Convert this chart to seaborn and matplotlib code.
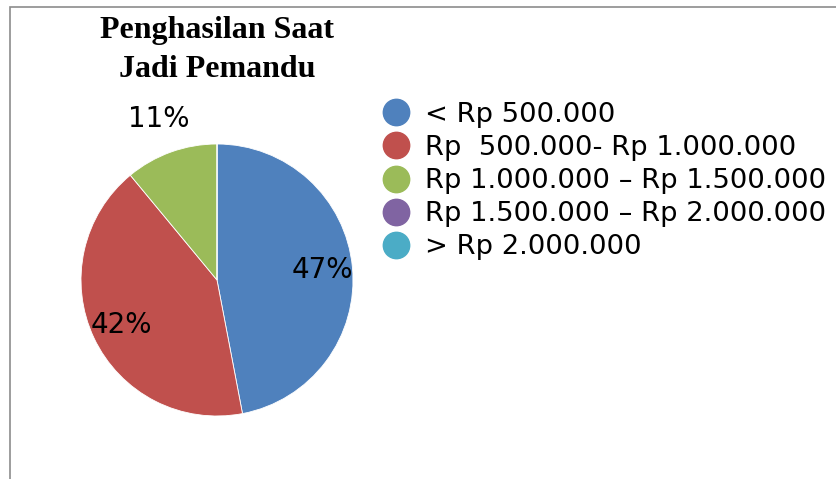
import matplotlib
matplotlib.use('Agg')
import matplotlib.pyplot as plt
from matplotlib.lines import Line2D
from matplotlib.patches import Rectangle
import seaborn as sns

W, H = 837, 479

categories = ['< Rp 500.000',
              'Rp  500.000- Rp 1.000.000',
              'Rp 1.000.000 \u2013 Rp 1.500.000',
              'Rp 1.500.000 \u2013 Rp 2.000.000',
              '> Rp 2.000.000']
shares = [47, 42, 11, 0, 0]
colors = ['#4F81BD', '#C0504D', '#9BBB59', '#8064A2', '#4BACC6']
title = 'Penghasilan Saat\nJadi Pemandu'

sns.set_theme(style='white')
plt.rcParams['font.family'] = ['DejaVu Sans']
plt.rcParams['text.color'] = 'black'
palette = sns.color_palette(colors)

fig = plt.figure(figsize=(W / 100, H / 100), dpi=100)

# outer chart border (grey, left and top visible)
fig.patches.append(Rectangle((10 / W, -0.1), 1.2, 1 - 7 / H + 0.1,
                             transform=fig.transFigure, fill=False,
                             edgecolor='#8c8c8c', linewidth=1.2))

# pie axes placed so that the pie sits at the same spot as the reference
cx, cy, r = 217, 280, 136
ax = fig.add_axes([(cx - r) / W, (H - cy - r) / H, 2 * r / W, 2 * r / H])

wedges, texts, autotexts = ax.pie(
    shares, colors=palette, startangle=90, counterclock=False,
    autopct=lambda p: f'{p:.0f}%' if p > 0 else '',
    pctdistance=0.78, radius=1,
    wedgeprops=dict(linewidth=0.6, edgecolor='white'),
    textprops=dict(fontsize=20, color='black'))
ax.set_xlim(-1, 1)
ax.set_ylim(-1, 1)
ax.set_aspect('equal')
ax.axis('off')

# the small slice label sits outside the pie
x, y = autotexts[2].get_position()
autotexts[2].set_position((x * 1.26 / 0.78, y * 1.26 / 0.78))

fig.text(cx / W, 1 - 50 / H, title, ha='center', va='center',
         fontsize=23, fontweight='bold', family='Liberation Serif',
         linespacing=1.42, color='black')

handles = [Line2D([], [], marker='o', linestyle='', markersize=19,
                  markerfacecolor=c, markeredgecolor=c) for c in palette]
fig.legend(handles, categories, loc='upper left',
           bbox_to_anchor=(369 / W, 1 - 91 / H), frameon=False,
           fontsize=19.7, handletextpad=0.45, labelspacing=0.26,
           handlelength=1.2, borderaxespad=0, labelcolor='black')

fig.savefig('out.png', dpi=100)
